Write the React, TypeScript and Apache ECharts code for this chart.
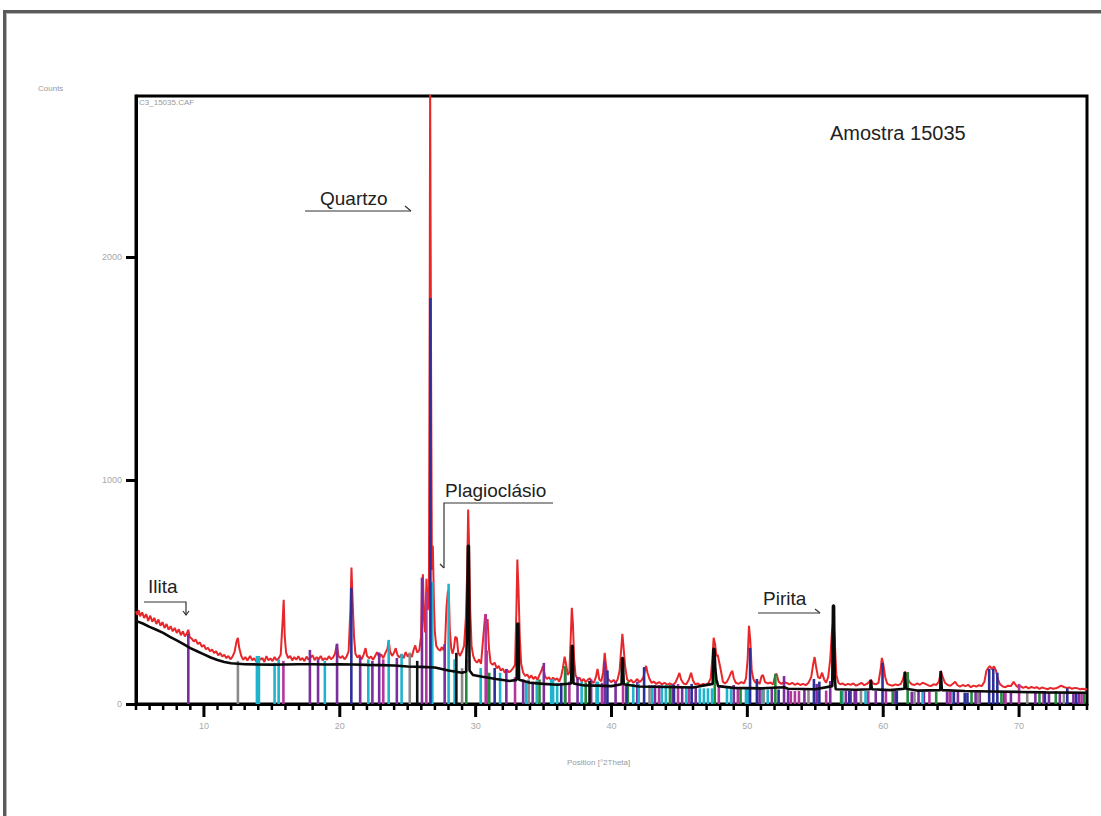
import React, { useEffect, useRef } from "react";
import * as echarts from "echarts";

// ---- Axis ticks ----
const xMajorTicks = [10, 20, 30, 40, 50, 60, 70];
const xMinorFrom = 5;
const xMinorTo = 75;
const yTicks = [0, 1000, 2000];

// ---- Measured pattern (red) [2θ, counts] ----
const redTrace: number[][] = [
  [5.0,415],[5.1,398],[5.2,420],[5.3,392],[5.45,410],[5.6,385],[5.75,402],[5.9,372],[6.05,395],[6.2,368],
  [6.35,385],[6.5,358],[6.65,378],[6.8,350],[6.95,366],[7.1,340],[7.25,358],[7.4,332],[7.55,348],[7.7,325],
  [7.85,340],[8.0,318],[8.15,334],[8.3,308],[8.45,325],[8.6,302],[8.75,318],[8.85,332],[8.95,300],[9.1,292],
  [9.25,280],[9.4,288],[9.55,268],[9.7,276],[9.85,256],[10.0,264],[10.15,245],[10.3,252],[10.45,236],[10.6,244],
  [10.75,228],[10.9,236],[11.05,218],[11.2,228],[11.35,212],[11.5,220],[11.65,205],[11.8,215],[11.95,200],[12.1,212],
  [12.25,232],[12.4,280],[12.5,296],[12.6,250],[12.75,215],[12.9,198],
  [13.05,210],[13.2,195],[13.4,215],[13.55,196],[13.7,205],[13.85,190],[14.0,212],[14.15,198],[14.3,206],[14.45,188],
  [14.6,214],[14.75,195],[14.9,204],[15.05,192],[15.2,210],[15.35,196],[15.5,205],[15.65,220],[15.8,380],[15.87,466],
  [15.95,300],[16.05,230],[16.2,205],[16.35,215],[16.5,195],[16.65,210],[16.8,198],[16.95,214],[17.1,196],[17.25,206],
  [17.4,192],[17.55,212],[17.7,198],[17.85,208],[18.0,218],[18.15,196],[18.3,210],[18.45,200],[18.6,215],[18.75,195],
  [18.9,205],[19.05,198],[19.2,214],[19.35,200],[19.5,208],[19.65,225],[19.78,268],[19.9,215],[20.05,205],[20.2,215],
  [20.35,200],[20.5,212],[20.65,235],[20.78,420],[20.86,610],[20.95,450],[21.05,300],[21.15,225],[21.3,208],[21.45,218],
  [21.6,200],[21.75,220],[21.9,250],[22.0,215],[22.15,205],[22.3,212],[22.45,198],[22.6,215],[22.75,232],[22.9,210],
  [23.05,222],[23.2,205],[23.35,228],[23.5,245],[23.6,282],[23.7,235],[23.85,215],[24.0,230],[24.12,250],[24.25,218],
  [24.4,208],[24.55,222],[24.7,205],[24.85,232],[25.0,212],[25.15,226],[25.3,210],[25.45,245],[25.55,262],[25.7,230],
  [25.85,240],[25.98,300],
  [26.05,520],[26.12,580],[26.2,380],[26.28,320],[26.38,560],[26.48,420],[26.56,500],[26.62,1800],[26.65,2800],[26.72,1500],
  [26.78,600],[26.85,708],[26.93,450],[27.0,320],[27.1,260],[27.25,245],[27.4,238],[27.5,255],[27.65,240],[27.75,270],
  [27.85,430],[27.95,500],[28.02,511],[28.1,330],[28.2,250],[28.3,225],[28.4,250],[28.5,300],[28.62,295],[28.72,230],
  [28.85,215],[29.0,235],[29.15,260],[29.28,386],[29.38,600],[29.45,870],[29.52,700],[29.6,420],[29.7,260],[29.82,215],
  [29.95,195],[30.1,185],[30.25,200],[30.4,180],[30.52,270],[30.62,340],[30.7,400],[30.78,360],[30.88,380],[30.98,250],
  [31.1,185],[31.25,175],[31.4,185],[31.55,160],[31.7,170],[31.85,150],[32.0,158],[32.15,140],[32.3,152],[32.45,142],
  [32.6,148],[32.75,160],[32.9,175],[33.0,420],[33.07,646],[33.15,520],[33.25,300],[33.35,180],[33.5,140],[33.65,125],
  [33.8,132],[33.95,115],[34.1,128],[34.25,112],[34.4,122],[34.55,108],[34.7,130],[34.85,150],[34.95,170],[35.1,125],
  [35.25,112],[35.4,120],[35.55,105],[35.7,118],[35.85,108],[36.0,115],[36.15,100],[36.3,125],[36.42,160],[36.55,212],
  [36.65,180],[36.78,130],[36.9,140],[37.0,300],[37.08,430],[37.16,360],[37.25,200],[37.35,130],[37.5,110],[37.65,118],
  [37.8,100],[37.95,112],[38.1,98],[38.25,108],[38.4,115],[38.55,100],[38.7,95],[38.85,120],[38.97,157],[39.1,110],
  [39.25,102],[39.38,140],[39.5,229],[39.6,170],[39.72,115],[39.85,105],[40.0,98],[40.15,108],[40.3,95],[40.45,110],
  [40.6,150],[40.72,250],[40.8,314],[40.88,260],[41.0,170],[41.15,110],[41.3,100],[41.45,108],[41.6,95],[41.75,102],
  [41.9,112],[42.05,98],[42.2,105],[42.35,120],[42.48,160],[42.55,170],[42.65,140],[42.8,112],[42.95,95],[43.1,100],
  [43.3,90],[43.5,98],[43.7,88],[43.9,95],[44.1,86],[44.3,92],[44.5,85],[44.7,95],[44.88,120],[45.0,139],
  [45.12,110],[45.3,92],[45.5,88],[45.7,110],[45.86,140],[46.0,105],[46.15,88],[46.35,92],[46.55,84],[46.75,90],
  [46.95,86],[47.15,95],[47.3,115],[47.42,200],[47.52,296],[47.62,270],[47.72,215],[47.82,220],[47.95,180],[48.05,150],
  [48.2,100],[48.35,92],[48.5,100],[48.65,118],[48.8,140],[48.9,148],[49.0,115],[49.15,95],[49.35,90],[49.55,98],
  [49.75,92],[49.9,115],[50.02,200],[50.12,350],[50.22,280],[50.32,150],[50.45,110],[50.6,95],[50.75,100],[50.9,90],
  [51.05,125],[51.15,130],[51.3,98],[51.5,92],[51.7,96],[51.9,88],[52.05,130],[52.15,135],[52.3,100],[52.5,90],
  [52.7,98],[52.9,94],[53.1,88],[53.3,95],[53.5,86],[53.7,92],[53.9,85],[54.1,90],[54.3,84],[54.5,95],
  [54.7,120],[54.85,180],[54.95,210],[55.05,170],[55.2,120],[55.35,115],[55.5,140],[55.65,110],[55.8,95],[55.95,120],
  [56.1,200],[56.22,320],[56.32,372],[56.42,300],[56.55,130],[56.7,95],[56.85,88],[57.0,92],[57.2,84],[57.4,90],
  [57.6,86],[57.8,92],[58.0,82],[58.2,88],[58.4,95],[58.6,84],[58.8,90],[59.0,100],[59.1,108],[59.25,92],
  [59.45,88],[59.65,95],[59.82,160],[59.9,206],[60.0,180],[60.15,120],[60.3,90],[60.5,85],[60.7,82],[60.9,88],
  [61.1,84],[61.3,90],[61.45,110],[61.6,145],[61.75,130],[61.9,100],[62.1,88],[62.3,85],[62.5,92],[62.7,86],
  [62.9,95],[63.1,90],[63.3,84],[63.5,80],[63.7,88],[63.9,85],[64.1,100],[64.25,148],[64.38,120],[64.55,95],
  [64.75,85],[64.95,82],[65.15,92],[65.3,100],[65.45,85],[65.65,78],[65.85,85],[66.05,80],[66.25,86],[66.45,75],
  [66.65,82],[66.85,78],[67.05,84],[67.25,80],[67.45,100],[67.6,150],[67.72,160],[67.85,170],[68.0,155],[68.15,168],
  [68.3,150],[68.45,110],[68.6,88],[68.8,78],[69.0,75],[69.2,82],[69.4,80],[69.6,100],[69.75,85],[69.9,76],
  [70.1,80],[70.3,72],[70.5,78],[70.7,70],[70.9,76],[71.1,72],[71.3,75],[71.5,68],[71.7,74],[71.9,70],
  [72.1,66],[72.3,72],[72.5,68],[72.7,70],[72.9,75],[73.1,82],[73.3,76],[73.5,72],[73.7,74],[73.9,68],
  [74.1,72],[74.3,70],[74.5,66],[74.7,68],[74.9,65],[75.0,67]
];

// ---- Calculated profile / background (black) [2θ, counts] ----
const blackTrace: number[][] = [
  [5.0,372],[5.5,360],[6.0,345],[6.5,332],[7.0,318],[7.5,300],[8.0,285],[8.5,268],[9.0,250],[9.5,236],
  [10.0,222],[10.5,208],[11.0,197],[11.5,188],[12.0,182],[12.5,180],[13.0,178],[14,177],[15,176],[16,177],
  [17,178],[18,178],[19,177],[20,178],[21,177],[22,175],[23,174],[24,172],[25,168],[26,166],
  [27,163],[28,150],[29,140],[29.3,145],[29.38,380],[29.43,708],[29.5,708],[29.55,150],[29.8,130],[30.5,122],
  [31.5,112],[32.5,103],[33.02,108],[33.07,360],[33.14,360],[33.2,108],[34,95],[35,90],[36,86],[37.03,92],
  [37.08,260],[37.14,260],[37.2,92],[38,83],[39,82],[40,80],[40.74,88],[40.78,206],[40.84,206],[40.9,88],
  [42,78],[44,76],[46,74],[47.45,90],[47.5,247],[47.58,247],[47.64,160],[47.72,110],[47.85,80],[49,72],
  [51,70],[52.7,75],[53,68],[55,66],[56.25,80],[56.3,440],[56.38,440],[56.43,120],[56.5,66],[58,64],
  [59.05,66],[59.08,108],[59.13,108],[59.17,66],[60.5,62],[61.56,68],[61.59,143],[61.64,143],[61.68,68],[62.5,60],
  [64.2,62],[64.23,148],[64.28,148],[64.32,62],[66,58],[68,56],[70,54],[72,52],[75,50]
];

// ---- Reference stick patterns [2θ, counts] ----
const sticksPurple = [
  [8.85,314],[17.8,242],[18.4,200],[19.8,270],[21.5,210],[22.4,193],[22.9,230],[24.2,206],[26.05,565],[27.72,269],
  [30.8,240],[32.26,157],[33.5,110],[34.2,100],[35.02,184],[36.59,140],[37.5,120],[38.5,110],[39.5,190],[40.3,100],
  [41.9,100],[43.2,85],[44.5,90],[45.2,80],[46.2,75],[49.0,85],[50.9,70],[51.8,70],[52.7,125],[53.0,62],
  [54.2,70],[55.1,90],[56.1,103],[57.25,58],[57.6,58],[57.9,58],[58.0,58],[59.45,58],[60.9,58],[62.1,55],
  [62.6,55],[63.0,55],[64.7,55],[65.5,55],[66.8,55],[67.1,55],[68.9,55],[69.4,55],[71.2,55],[72.2,52],
  [73.0,52],[74.0,50],[74.4,50]
];
const sticksCyan = [
  [13.9,215],[14.05,215],[15.2,184],[15.5,200],[18.9,193],[22.1,200],[23.6,287],[24.55,224],[26.81,545],[28.01,538],
  [28.45,200],[30.37,161],[31.8,140],[33.72,100],[34.5,105],[35.56,110],[35.7,110],[36.0,95],[37.8,100],[38.9,100],
  [39.0,100],[41.6,90],[42.0,90],[43.0,85],[43.7,85],[44.0,85],[45.5,80],[46.5,70],[46.8,70],[47.1,70],
  [47.4,70],[48.5,72],[48.8,72],[49.9,68],[50.05,68],[51.1,68],[51.5,65],[57.0,58],[58.7,58],[62.9,55],
  [65.0,55]
];
const sticksBlue = [
  [20.85,520],[26.67,1816],[31.4,161],[36.3,95],[39.7,150],[41.1,90],[42.4,165],[44.6,85],[45.9,90],[50.2,251],
  [50.7,112],[52.3,65],[54.9,112],[55.3,100],[57.5,58],[59.95,184],[61.0,58],[65.2,55],[66.0,50],[66.2,50],
  [67.8,157],[68.1,157],[68.4,140],[71.9,52],[73.55,70],[74.2,50]
];
const sticksMagenta = [
  [15.85,193],[23.2,200],[26.37,500],[30.74,403],[32.9,120],[36.9,100],[39.3,95],[40.85,110],[43.5,85],[44.9,90],
  [45.7,80],[47.9,80],[49.3,75],[53.2,58],[53.5,58],[53.8,58],[55.8,60],[58.9,58],[60.2,58],[63.4,55],
  [64.9,55],[69.0,55],[70.0,90],[71.8,52],[74.6,50]
];
const sticksGreen = [
  [29.31,200],[31.0,140],[34.7,110],[36.59,170],[38.1,95],[41.2,100],[44.3,85],[47.6,161],[49.5,75],[52.06,135],
  [56.9,58],[60.7,58],[61.8,143],[63.9,55],[66.5,55],[68.7,55],[71.5,52],[72.7,58],[74.8,50]
];
const sticksGray = [
  [12.5,193],[25.15,230],[29.0,160],[33.9,110],[42.8,85],[51.2,68],[54.5,62],[58.36,58],[62.3,55],[67.0,55],
  [70.6,55],[73.3,52]
];
const sticksBlack = [[25.7,193],[28.58,229],[38.38,103]];

const stickSets: [number[][], string][] = [
  [sticksPurple, "#7a2d9c"],
  [sticksCyan, "#1fb3cc"],
  [sticksMagenta, "#b2379c"],
  [sticksGreen, "#238a3c"],
  [sticksGray, "#8a8a8a"],
  [sticksBlack, "#111111"],
  [sticksBlue, "#2c2f98"],
];

function stickSeries(data: number[][], color: string) {
  return {
    type: "custom",
    xAxisIndex: 0,
    yAxisIndex: 0,
    data,
    z: 3,
    clip: true,
    renderItem: (_p: any, api: any) => {
      const x = api.value(0);
      const h = api.value(1);
      const a = api.coord([x, 0]);
      const b = api.coord([x, h]);
      return {
        type: "line",
        shape: { x1: a[0], y1: a[1], x2: b[0], y2: b[1] },
        style: { stroke: color, lineWidth: 2.6 },
      };
    },
  };
}

function tickSeries(values: number[], len: number, width: number) {
  return {
    type: "custom",
    xAxisIndex: 0,
    yAxisIndex: 0,
    data: values.map((v) => [v, 0]),
    z: 6,
    clip: false,
    silent: true,
    renderItem: (_p: any, api: any) => {
      const a = api.coord([api.value(0), 0]);
      return {
        type: "line",
        shape: { x1: a[0], y1: a[1], x2: a[0], y2: a[1] + len },
        style: { stroke: "#000", lineWidth: width },
      };
    },
  };
}

const xMinorTicks: number[] = [];
for (let v = xMinorFrom; v <= xMinorTo; v++) if (!xMajorTicks.includes(v)) xMinorTicks.push(v);

const annFont = "'Liberation Sans', Arial, sans-serif";
const smallGray = { fontSize: 8, fill: "#9a9a9a", fontFamily: annFont };

export default function App() {
  const ref = useRef<HTMLDivElement>(null);
  useEffect(() => {
    if (!ref.current) return;
    const chart = echarts.init(ref.current, null, { renderer: "svg" });
    const lineStroke = { stroke: "#333", lineWidth: 1.2 };
    chart.setOption({
      animation: false,
      backgroundColor: "#ffffff",
      grid: { left: 136, right: 14, top: 96, bottom: 112, show: true, borderColor: "#000", borderWidth: 3, containLabel: false },
      xAxis: {
        type: "value", min: 5, max: 75,
        axisLine: { show: true, lineStyle: { color: "#000", width: 3 } },
        axisTick: { show: false },
        axisLabel: { customValues: xMajorTicks, color: "#a8a8a8", fontSize: 9, margin: 17, fontFamily: annFont },
        splitLine: { show: false },
      },
      yAxis: {
        type: "value", min: 0, max: 2720,
        axisLine: { show: true, lineStyle: { color: "#000", width: 3 } },
        axisTick: { show: true, customValues: yTicks, length: 10, lineStyle: { color: "#000", width: 3 } },
        axisLabel: {
          customValues: yTicks, color: "#a8a8a8", fontSize: 9, margin: 14, fontFamily: annFont,
          formatter: (v: number) => String(v),
        },
        splitLine: { show: false },
      },
      series: [
        {
          type: "line", data: redTrace, symbol: "none", z: 2,
          lineStyle: { color: "#e8272b", width: 2 }, clip: true,
        },
        ...stickSets.map(([d, c]) => stickSeries(d, c)),
        {
          type: "line", data: blackTrace, symbol: "none", z: 4,
          lineStyle: { color: "#0a0a0a", width: 2.6 }, clip: true,
        },
        tickSeries(xMajorTicks, 13, 3),
        tickSeries(xMinorTicks, 6, 2.5),
      ],
      graphic: [
        // outer frame
        { type: "rect", shape: { x: 3, y: 10, width: 1098, height: 3 }, style: { fill: "#5a5a5a" }, silent: true },
        { type: "rect", shape: { x: 3, y: 13, width: 1098, height: 1 }, style: { fill: "#b5b5b5" }, silent: true },
        { type: "rect", shape: { x: 3, y: 10, width: 3, height: 806 }, style: { fill: "#5a5a5a" }, silent: true },
        { type: "rect", shape: { x: 6, y: 13, width: 1, height: 803 }, style: { fill: "#b5b5b5" }, silent: true },
        // small labels
        { type: "text", x: 38, y: 84, style: { text: "Counts", ...smallGray } },
        { type: "text", x: 139, y: 98, style: { text: "C3_15035.CAF", ...smallGray } },
        { type: "text", x: 567, y: 758, style: { text: "Position [°2Theta]", ...smallGray } },
        // sample title
        { type: "text", x: 830, y: 123, style: { text: "Amostra 15035", fontSize: 20, fill: "#222", fontFamily: annFont } },
        // Quartzo
        { type: "text", x: 320, y: 189, style: { text: "Quartzo", fontSize: 19, fill: "#222", fontFamily: annFont } },
        { type: "line", shape: { x1: 305, y1: 211, x2: 411, y2: 211 }, style: lineStroke },
        { type: "line", shape: { x1: 405, y1: 206, x2: 411, y2: 211 }, style: lineStroke },
        // Plagioclásio
        { type: "text", x: 445, y: 481, style: { text: "Plagioclásio", fontSize: 19, fill: "#222", fontFamily: annFont } },
        { type: "polyline", shape: { points: [[553, 503], [444, 503], [444, 568]] }, style: { ...lineStroke, fill: "none" } },
        { type: "line", shape: { x1: 440, y1: 564, x2: 444, y2: 568 }, style: lineStroke },
        // Ilita
        { type: "text", x: 148, y: 577, style: { text: "Ilita", fontSize: 19, fill: "#222", fontFamily: annFont } },
        { type: "polyline", shape: { points: [[144, 602], [186, 602], [186, 615]] }, style: { ...lineStroke, fill: "none" } },
        { type: "polyline", shape: { points: [[183, 611], [186, 615], [189, 611]] }, style: { ...lineStroke, fill: "none" } },
        // Pirita
        { type: "text", x: 763, y: 589, style: { text: "Pirita", fontSize: 19, fill: "#222", fontFamily: annFont } },
        { type: "line", shape: { x1: 758, y1: 613, x2: 820, y2: 613 }, style: lineStroke },
        { type: "line", shape: { x1: 815, y1: 609, x2: 820, y2: 613 }, style: lineStroke },
      ],
    });
    return () => chart.dispose();
  }, []);
  return <div ref={ref} style={{ position: "fixed", left: 0, top: 0, width: 1101, height: 816, background: "#fff" }} />;
}
